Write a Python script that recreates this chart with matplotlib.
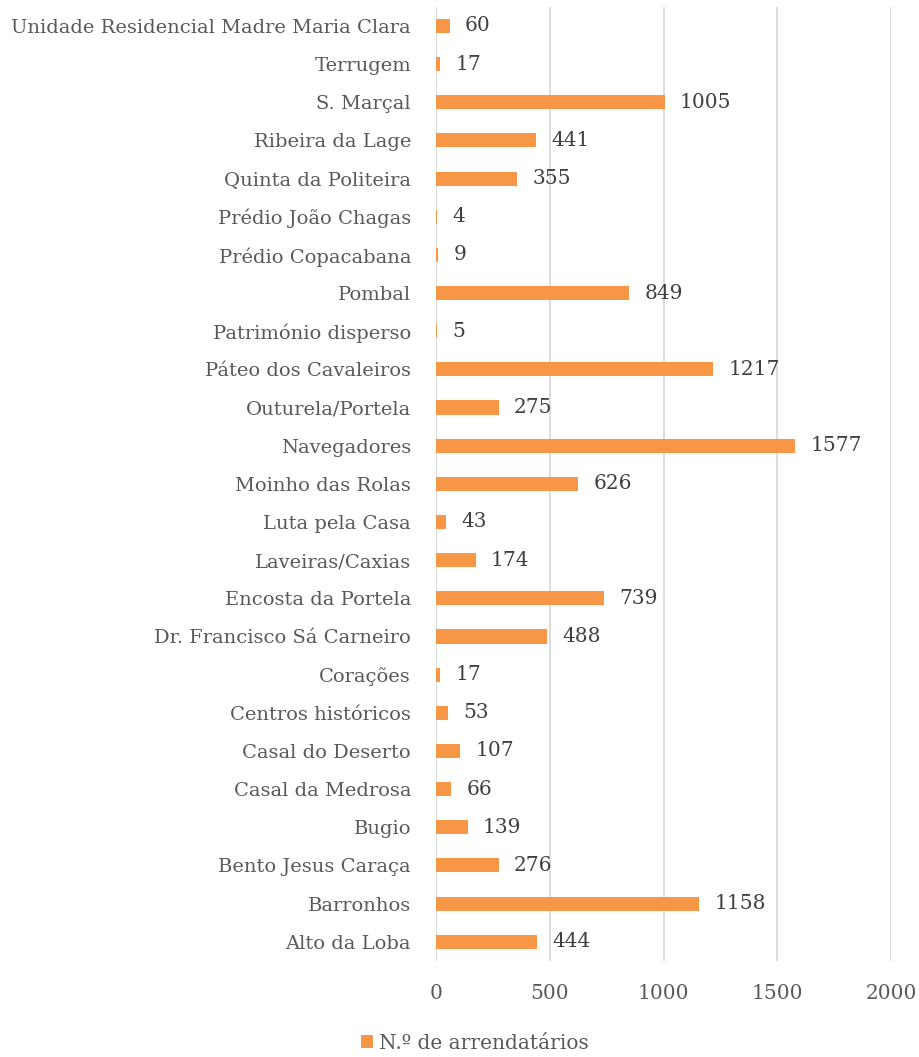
import matplotlib.pyplot as plt

# categories listed bottom to top, as drawn on the axis
bairros = [
    "Alto da Loba", "Barronhos", "Bento Jesus Caraça", "Bugio",
    "Casal da Medrosa", "Casal do Deserto", "Centros históricos", "Corações",
    "Dr. Francisco Sá Carneiro", "Encosta da Portela", "Laveiras/Caxias",
    "Luta pela Casa", "Moinho das Rolas", "Navegadores", "Outurela/Portela",
    "Páteo dos Cavaleiros", "Património disperso", "Pombal",
    "Prédio Copacabana", "Prédio João Chagas", "Quinta da Politeira",
    "Ribeira da Lage", "S. Marçal", "Terrugem",
    "Unidade Residencial Madre Maria Clara",
]
arrendatarios = [444, 1158, 276, 139, 66, 107, 53, 17, 488, 739, 174, 43, 626,
                 1577, 275, 1217, 5, 849, 9, 4, 355, 441, 1005, 17, 60]
xticks = [0, 500, 1000, 1500, 2000]
serie = "N.º de arrendatários"

plt.rcParams['font.family'] = ['DejaVu Serif']
txt = "#595959"

fig = plt.figure(figsize=(9.2, 10.57), dpi=100)
ax = fig.add_axes([0.474, 0.091, 0.4945, 0.9025])

bars = ax.barh(range(len(bairros)), arrendatarios, height=0.37,
               color="#F79646", label=serie, zorder=3)
ax.bar_label(bars, padding=11, fontsize=14.5, color="#404040")

ax.set_yticks(range(len(bairros)))
ax.set_yticklabels(bairros, fontsize=14, color=txt)
ax.set_ylim(-0.5, len(bairros) - 0.5)
ax.set_xlim(0, 2000)
ax.set_xticks(xticks)
ax.set_xticklabels([str(v) for v in xticks], fontsize=14.5, color=txt)
ax.tick_params(length=0, pad=18)
ax.tick_params(axis='x', pad=17)
ax.grid(axis='x', color="#D9D9D9", linewidth=1.3, zorder=0)
for s in ax.spines.values():
    s.set_visible(False)

fig.legend(loc='lower center', bbox_to_anchor=(0.516, -0.013), frameon=False,
           fontsize=14.5, handlelength=0.6, handleheight=0.6, handletextpad=0.3,
           labelcolor=txt)

fig.savefig("out.png", dpi=100)
